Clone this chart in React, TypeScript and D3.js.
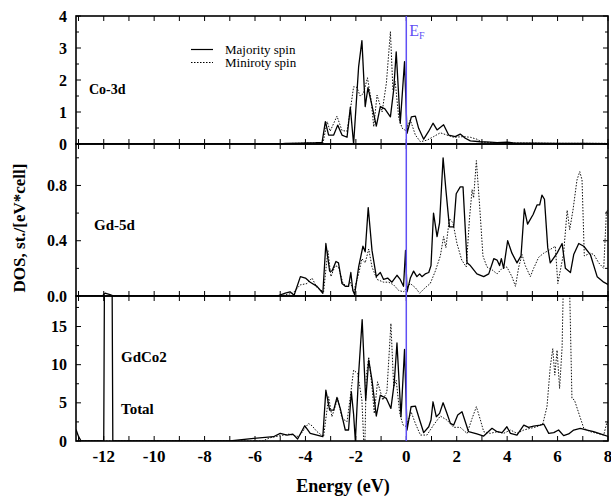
import React from 'react'
import * as d3 from 'd3'

type Pt = [number, number]

// energy window (eV)
const energyDomain: Pt = [-13.1, 8]
const energyTicks = d3.range(-13, 9, 1)
const energyLabels = [-12, -10, -8, -6, -4, -2, 0, 2, 4, 6, 8]

// Co-3d partial DOS
const co3dMajority: Pt[] = [
  [-13.1, 0], [-5.0, 0], [-4.8, 0.02], [-4.2, 0.03], [-3.6, 0.04], [-3.34, 0.05], [-3.21, 0.7], [-3.08, 0.28],
  [-2.88, 0.28], [-2.72, 0.59], [-2.55, 0.28], [-2.35, 0.21], [-2.22, 1.15], [-2.09, 0.0], [-1.89, 2.42],
  [-1.76, 3.23], [-1.63, 1.17], [-1.52, 1.76], [-1.36, 1.2], [-1.19, 0.56], [-1.03, 1.17], [-0.85, 1.1],
  [-0.63, 0.85], [-0.5, 1.69], [-0.4, 2.88], [-0.24, 0.65], [-0.07, 2.57], [0.03, 0.33], [0.2, 0.85],
  [0.36, 0.87], [0.49, 0.49], [0.69, 0.15], [0.89, 0.4], [1.06, 0.65], [1.22, 0.44], [1.48, 0.6], [1.68, 0.28],
  [1.94, 0.23], [2.14, 0.31], [2.34, 0.18], [2.54, 0.1], [2.93, 0.07], [3.33, 0.06], [3.6, 0.04], [3.99, 0.06],
  [4.3, 0.03], [5, 0.03], [6, 0.02], [7, 0.02], [8, 0.01],
]
const co3dMinority: Pt[] = [
  [-13.1, 0], [-5.0, 0], [-4.5, 0.02], [-3.6, 0.03], [-3.3, 0.04], [-3.14, 0.7], [-3.02, 0.4], [-2.75, 0.87],
  [-2.55, 0.42], [-2.35, 0.4], [-2.22, 1.06], [-2.09, 1.79], [-1.96, 1.77], [-1.83, 1.5], [-1.7, 1.58],
  [-1.54, 2.07], [-1.4, 1.4], [-1.29, 0.54], [-1.16, 1.53], [-0.96, 1.0], [-0.79, 1.9], [-0.63, 3.51],
  [-0.53, 1.69], [-0.44, 1.95], [-0.3, 0.82], [-0.17, 0.5], [-0.03, 0.42], [0.16, 0.75], [0.36, 0.28],
  [0.56, 0.07], [0.82, 0.12], [1.08, 0.23], [1.35, 0.35], [1.61, 0.28], [1.88, 0.21], [2.27, 0.23],
  [2.54, 0.21], [2.8, 0.15], [3.0, 0.06], [3.5, 0.04], [4.5, 0.03], [6, 0.02], [8, 0.02],
]

// Gd-5d partial DOS
const gd5dMajority: Pt[] = [
  [-13.1, 0], [-12.05, 0], [-11.95, 0.02], [-11.75, 0.01], [-11.6, 0], [-5.12, 0], [-4.8, 0.02], [-4.61, 0.03],
  [-4.45, 0.005], [-4.2, 0.14], [-4.0, 0.13], [-3.81, 0.1], [-3.54, 0.07], [-3.31, 0.02], [-3.19, 0.38],
  [-3.04, 0.18], [-2.95, 0.18], [-2.79, 0.25], [-2.69, 0.24], [-2.55, 0.09], [-2.42, 0.07], [-2.29, 0.07],
  [-2.2, 0.17], [-2.12, 0.04], [-2.05, 0.01], [-1.89, 0.21], [-1.72, 0.36], [-1.63, 0.32], [-1.51, 0.64],
  [-1.36, 0.33], [-1.19, 0.14], [-1.03, 0.17], [-0.9, 0.12], [-0.74, 0.13], [-0.57, 0.1], [-0.37, 0.15],
  [-0.24, 0.12], [-0.11, 0.07], [-0.03, 0.33], [0.03, 0.03], [0.16, 0.13], [0.29, 0.18], [0.42, 0.14],
  [0.53, 0.16], [0.62, 0.14], [0.75, 0.16], [0.89, 0.17], [0.98, 0.22], [1.08, 0.6], [1.22, 0.43],
  [1.32, 0.53], [1.46, 1.0], [1.57, 0.77], [1.71, 0.5], [1.88, 0.5], [1.98, 0.74], [2.14, 0.79], [2.25, 0.79],
  [2.41, 0.24], [2.54, 0.22], [2.8, 0.16], [3.07, 0.14], [3.27, 0.16], [3.47, 0.27], [3.6, 0.26], [3.7, 0.22],
  [3.77, 0.27], [3.86, 0.2], [4.02, 0.4], [4.19, 0.31], [4.39, 0.24], [4.55, 0.29], [4.68, 0.63], [4.81, 0.52],
  [5.03, 0.59], [5.19, 0.66], [5.29, 0.66], [5.38, 0.73], [5.48, 0.7], [5.61, 0.35], [5.71, 0.24], [5.98, 0.31],
  [6.18, 0.38], [6.31, 0.2], [6.51, 0.17], [6.64, 0.3], [6.84, 0.38], [7.04, 0.36], [7.3, 0.3], [7.57, 0.14],
  [7.83, 0.1], [8.03, 0.08],
]
const gd5dMinority: Pt[] = [
  [-13.1, 0], [-5.0, 0], [-4.5, 0.02], [-4.21, 0.08], [-3.94, 0.09], [-3.74, 0.13], [-3.54, 0.06], [-3.28, 0.03],
  [-3.11, 0.33], [-2.99, 0.14], [-2.82, 0.22], [-2.69, 0.21], [-2.51, 0.09], [-2.35, 0.07], [-2.22, 0.1],
  [-2.09, 0.03], [-1.89, 0.16], [-1.76, 0.27], [-1.63, 0.24], [-1.49, 0.34], [-1.36, 0.21], [-1.16, 0.12],
  [-0.9, 0.1], [-0.7, 0.1], [-0.5, 0.08], [-0.3, 0.04], [-0.11, 0.03], [0.16, 0.09], [0.36, 0.06], [0.53, 0.02],
  [0.75, 0.06], [0.95, 0.09], [1.15, 0.18], [1.35, 0.29], [1.48, 0.43], [1.57, 0.35], [1.71, 0.56], [1.85, 0.53],
  [2.01, 0.38], [2.2, 0.26], [2.38, 0.21], [2.51, 0.57], [2.61, 0.77], [2.67, 0.71], [2.78, 0.98], [2.91, 0.65],
  [3.04, 0.29], [3.2, 0.21], [3.4, 0.19], [3.6, 0.16], [3.8, 0.2], [3.99, 0.21], [4.19, 0.14], [4.33, 0.07],
  [4.46, 0.21], [4.59, 0.3], [4.72, 0.22], [4.92, 0.14], [5.05, 0.2], [5.25, 0.28], [5.45, 0.31], [5.65, 0.33],
  [5.91, 0.36], [6.01, 0.09], [6.24, 0.31], [6.38, 0.62], [6.48, 0.48], [6.61, 0.62], [6.77, 0.84], [6.88, 0.9],
  [6.97, 0.84], [7.06, 0.29], [7.3, 0.31], [7.44, 0.3], [7.63, 0.24], [7.83, 0.2], [7.94, 0.62], [8.03, 0.61],
]

// total DOS of GdCo2
const totalMajority: Pt[] = [
  [-13.1, 1.5], [-13.0, 0.6], [-12.9, 0], [-12.0, 0], [-11.96, 30], [-11.68, 30], [-11.64, 0], [-7.0, 0],
  [-6.05, 0.35], [-5.27, 0.56], [-5.0, 1.0], [-4.73, 0.78], [-4.5, 0.9], [-4.31, 0.26], [-4.03, 2.0],
  [-3.81, 1.0], [-3.31, 0.57], [-3.19, 6.67], [-3.04, 4.05], [-2.88, 4.05], [-2.75, 5.7], [-2.62, 4.27],
  [-2.42, 1.44], [-2.29, 1.44], [-2.18, 6.45], [-2.09, 3.5], [-2.02, 0], [-1.89, 8.85], [-1.75, 15.9],
  [-1.61, 5.36], [-1.49, 10.6], [-1.36, 7.97], [-1.19, 3.27], [-1.03, 6.0], [-0.79, 5.58], [-0.61, 4.27],
  [-0.48, 7.54], [-0.37, 12.85], [-0.21, 3.18], [-0.07, 12.0], [0.03, 1.44], [0.19, 4.49], [0.36, 4.58],
  [0.53, 2.75], [0.69, 1.09], [0.89, 1.87], [0.98, 2.75], [1.06, 5.14], [1.19, 3.18], [1.32, 3.62], [1.46, 5.01],
  [1.59, 3.83], [1.75, 2.31], [1.88, 2.09], [2.04, 3.4], [2.21, 3.83], [2.34, 2.53], [2.47, 1.22], [2.8, 0.92],
  [3.07, 0.65], [3.4, 1.66], [3.6, 1.22], [3.8, 1.09], [3.99, 1.87], [4.13, 1.0], [4.39, 0.78], [4.66, 2.09],
  [4.85, 1.79], [5.05, 1.96], [5.32, 2.09], [5.45, 2.22], [5.65, 1.0], [5.85, 1.09], [6.04, 1.44], [6.24, 0.7],
  [6.44, 0.92], [6.64, 1.44], [6.9, 1.66], [7.17, 1.44], [7.43, 1.22], [7.7, 0.92], [8.03, 0.57],
]
const totalMinority: Pt[] = [
  [-13.1, 0], [-5.7, 0], [-5.43, 0.4], [-5.0, 0.7], [-4.65, 0.9], [-4.3, 0.6], [-4.21, 0.8], [-3.88, 2.3],
  [-3.74, 2.0], [-3.54, 1.22], [-3.28, 0.57], [-3.08, 5.8], [-2.95, 3.18], [-2.72, 5.58], [-2.55, 2.96],
  [-2.35, 2.53], [-2.22, 5.8], [-2.09, 9.28], [-1.93, 8.85], [-1.76, 5.36], [-1.69, 0.1], [-1.64, 0.1],
  [-1.59, 8.4], [-1.49, 11.0], [-1.36, 7.1], [-1.27, 3.6], [-1.14, 7.76], [-0.93, 5.36], [-0.77, 6.45],
  [-0.61, 15.4], [-0.5, 7.1], [-0.4, 7.97], [-0.26, 3.6], [-0.13, 2.1], [0.0, 1.9], [0.19, 3.83], [0.36, 2.3],
  [0.56, 0.78], [0.82, 0.78], [1.08, 2.09], [1.35, 3.27], [1.61, 2.75], [1.88, 1.79], [2.14, 1.79], [2.41, 1.0],
  [2.61, 2.96], [2.78, 4.49], [2.94, 2.75], [3.07, 1.22], [3.33, 1.0], [3.6, 1.22], [3.86, 1.0], [4.13, 1.44],
  [4.39, 1.0], [4.66, 1.44], [4.92, 1.66], [5.19, 1.87], [5.42, 2.31], [5.58, 4.49], [5.71, 9.72], [5.81, 12.1],
  [5.89, 8.63], [5.98, 11.9], [6.08, 6.88], [6.18, 12.3], [6.26, 26], [6.44, 26], [6.57, 5.58], [6.67, 5.36],
  [7.04, 1.66], [7.3, 1.22], [7.57, 1.0], [7.83, 0.78], [7.96, 2.5], [8.03, 2.3],
]

const co3dTicks = d3.range(0, 4.01, 0.5)
const co3dLabels = [0, 1, 2, 3, 4]
const gd5dTicks = d3.range(0, 1.01, 0.2)
const gd5dLabels = [0, 0.4, 0.8]
const totalTicks = d3.range(0, 19, 2.5)
const totalLabels = [0, 5, 10, 15]

const W = 611
const H = 498
const left = 76
const right = 608
const font = '"Liberation Serif", "Times New Roman", serif'
const efColor = '#5f4ff5'

const x = d3.scaleLinear().domain(energyDomain).range([left, right])

const panels = [
  { id: 'co', top: 16, bottom: 144, max: 4, ticks: co3dTicks, labels: co3dLabels, fmt: d3.format('d'),
    maj: co3dMajority, min: co3dMinority },
  { id: 'gd', top: 144, bottom: 296, max: 1.1, ticks: gd5dTicks, labels: gd5dLabels, fmt: d3.format('.1f'),
    maj: gd5dMajority, min: gd5dMinority },
  { id: 'tot', top: 296, bottom: 441, max: 19, ticks: totalTicks, labels: totalLabels, fmt: d3.format('d'),
    maj: totalMajority, min: totalMinority },
]

function Panel({ p }: { p: typeof panels[number] }) {
  const y = d3.scaleLinear().domain([0, p.max]).range([p.bottom, p.top])
  const line = d3.line<Pt>().x(d => x(d[0])).y(d => y(d[1]))
  const isMajor = (t: number) => p.labels.some(l => Math.abs(l - t) < 1e-6)
  return (
    <g>
      <clipPath id={'clip-' + p.id}>
        <rect x={left} y={p.top} width={right - left} height={p.bottom - p.top} />
      </clipPath>
      <g clipPath={`url(#clip-${p.id})`}>
        <path d={line(p.min) || ''} fill="none" stroke="#111" strokeWidth={1} strokeDasharray="1.5,1.5" />
        <path d={line(p.maj) || ''} fill="none" stroke="#000" strokeWidth={1.3} strokeLinejoin="round" />
      </g>
      {energyTicks.map(t => (
        <g key={'x' + t}>
          <line x1={x(t)} x2={x(t)} y1={p.top} y2={p.top + 5} stroke="#000" strokeWidth={1} />
          <line x1={x(t)} x2={x(t)} y1={p.bottom} y2={p.bottom - 5} stroke="#000" strokeWidth={1} />
        </g>
      ))}
      {p.ticks.map(t => {
        const len = isMajor(t) ? 5 : 3
        return (
          <g key={'y' + t}>
            <line x1={left} x2={left + len} y1={y(t)} y2={y(t)} stroke="#000" strokeWidth={1} />
            <line x1={right} x2={right - len} y1={y(t)} y2={y(t)} stroke="#000" strokeWidth={1} />
          </g>
        )
      })}
      {p.labels.map(t => (
        <text key={'l' + t} x={67} y={y(t) + 5.5} textAnchor="end" fontFamily={font} fontWeight="bold"
          fontSize={16}>{p.fmt(t)}</text>
      ))}
      <rect x={left} y={p.top} width={right - left} height={p.bottom - p.top} fill="none" stroke="#000"
        strokeWidth={1.6} />
    </g>
  )
}

export default function App() {
  const bottom = panels[2].bottom
  return (
    <svg width={W} height={H} style={{ position: 'absolute', left: 0, top: 0, background: '#fff' }}>
      {panels.map(p => <Panel key={p.id} p={p} />)}
      <line x1={x(0)} x2={x(0)} y1={panels[0].top} y2={bottom} stroke={efColor} strokeWidth={1.5} />
      <text x={x(0) + 3} y={36} fill={efColor} fontFamily={font} fontSize={16}>
        E<tspan fontSize={10} dy={3}>F</tspan>
      </text>
      {energyLabels.map(t => (
        <text key={t} x={x(t)} y={462} textAnchor="middle" fontFamily={font} fontWeight="bold" fontSize={17}>
          {t}
        </text>
      ))}
      <text x={343} y={492} textAnchor="middle" fontFamily={font} fontWeight="bold" fontSize={18}>Energy (eV)</text>
      <text transform="translate(25,228) rotate(-90)" textAnchor="middle" fontFamily={font} fontWeight="bold"
        fontSize={17}>DOS, st./[eV*cell]</text>

      <text x={89} y={94} fontFamily={font} fontWeight="bold" fontSize={14}>Co-3d</text>
      <text x={94} y={230} fontFamily={font} fontWeight="bold" fontSize={15}>Gd-5d</text>
      <text x={121} y={362} fontFamily={font} fontWeight="bold" fontSize={15}>GdCo2</text>
      <text x={121} y={414} fontFamily={font} fontWeight="bold" fontSize={15}>Total</text>

      <line x1={191} x2={213} y1={49.5} y2={49.5} stroke="#000" strokeWidth={1.2} />
      <line x1={191} x2={213} y1={62.5} y2={62.5} stroke="#000" strokeWidth={1} strokeDasharray="1.5,1.5" />
      <text x={225} y={53.5} fontFamily={font} fontSize={13}>Majority spin</text>
      <text x={225} y={67} fontFamily={font} fontSize={13}>Miniroty spin</text>
    </svg>
  )
}
